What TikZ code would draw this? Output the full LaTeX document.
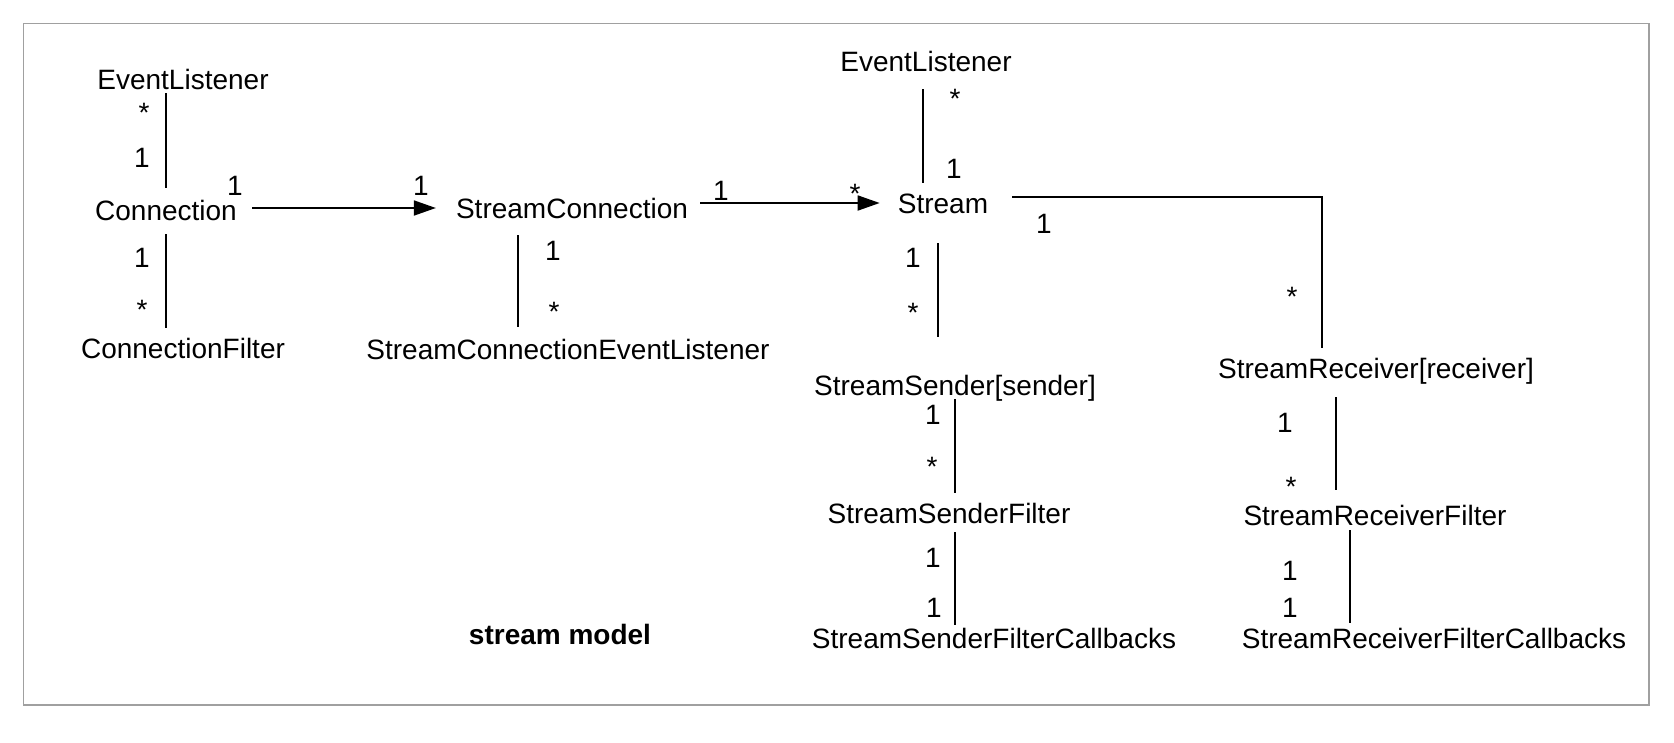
\documentclass[tikz,border=0pt]{standalone}
\usepackage{fontspec}
\setmainfont{Liberation Sans}
\usetikzlibrary{arrows.meta}
\definecolor{framegray}{RGB}{160,160,160}

\begin{document}
\begin{tikzpicture}[x=1pt, y=-1pt,
  cls/.style={font=\fontsize{28}{32}\selectfont, text height=20pt, text depth=0pt, inner sep=0pt},
  mult/.style={cls},
  many/.style={cls, text depth=-10pt},
  assoc/.style={line width=1.8pt},
  nav/.style={assoc, -{Triangle[length=22pt,width=15pt]}},
]
\useasboundingbox (0,0) rectangle (1674,742);
\draw[framegray, line width=1.2pt] (23.5,23.5) rectangle (1649,705);

% classes
\node[cls] (elA)  at (183,79)   {EventListener};
\node[cls] (con)  at (166,210)  {Connection};
\node[cls] (cf)   at (183,348)  {ConnectionFilter};
\node[cls] (sc)   at (572,208)  {StreamConnection};
\node[cls] (scel) at (568,349)  {StreamConnectionEventListener};
\node[cls] (elB)  at (926,61)   {EventListener};
\node[cls] (st)   at (943,203)  {Stream};
\node[cls] (ss)   at (955,385)  {StreamSender[sender]};
\node[cls] (sr)   at (1376,368) {StreamReceiver[receiver]};
\node[cls] (ssf)  at (949,513)  {StreamSenderFilter};
\node[cls] (srf)  at (1375,515) {StreamReceiverFilter};
\node[cls] (ssfc) at (994,638)  {StreamSenderFilterCallbacks};
\node[cls] (srfc) at (1434,638) {StreamReceiverFilterCallbacks};
\node[cls, font=\fontsize{28}{32}\selectfont\bfseries] (title) at (560,634) {stream model};

% associations
\draw[assoc, shorten <=4pt, shorten >=12pt] (elA.south -| con.north) -- (con.north);
\draw[assoc, shorten <=14pt, shorten >=10pt] (con.south) -- (cf.north -| con.south);
\draw[nav, shorten <=15pt, shorten >=20pt] (con.east |- sc.west) -- (sc.west);
\draw[assoc, shorten <=17pt, shorten >=12pt] ([xshift=-54pt]sc.south) -- ([xshift=-54pt]sc.south |- scel.north);
\draw[nav, shorten <=12pt, shorten >=18pt] (sc.east |- st.west) -- (st.west);
\draw[assoc, shorten <=18pt, shorten >=10pt] ([xshift=-20pt]st.north |- elB.south) -- ([xshift=-20pt]st.north);
\draw[assoc, shorten <=24pt, shorten >=10pt] ([yshift=6pt]st.east) -| ([xshift=-54pt]sr.north);
\draw[assoc, shorten <=30pt, shorten >=38pt] ([xshift=-5pt]st.south) -- ([xshift=-5pt]st.south |- ss.north);
\draw[assoc, shorten <=4pt, shorten >=10pt] (ss.south) -- (ss.south |- ssf.north);
\draw[assoc, shorten <=9pt, shorten >=3pt] (ssf.south -| ss.south) -- (ss.south |- ssfc.north);
\draw[assoc, shorten <=19pt, shorten >=15pt] ([xshift=-40pt]sr.south) -- ([xshift=-40pt]sr.south |- srf.north);
\draw[assoc, shorten <=5pt, shorten >=5pt] ([xshift=-25pt]srf.south) -- ([xshift=-25pt]srf.south |- srfc.north);

% multiplicities
\foreach \p [count=\i] in {(142,157),(235,185),(421,185),(142,257),(721,190),(553,250),
  (954,168),(913,257),(1044,223),(933,414),(933,557),(934,607),(1285,422),(1290,570),(1290,607)}
  \node[mult] (one\i) at \p {1};
\foreach \p [count=\i] in {(144,112),(142,309),(855,193),(554,311),(955,98),(913,312),
  (1292,296),(932,466),(1291,486)}
  \node[many] (many\i) at \p {*};
\end{tikzpicture}
\end{document}
